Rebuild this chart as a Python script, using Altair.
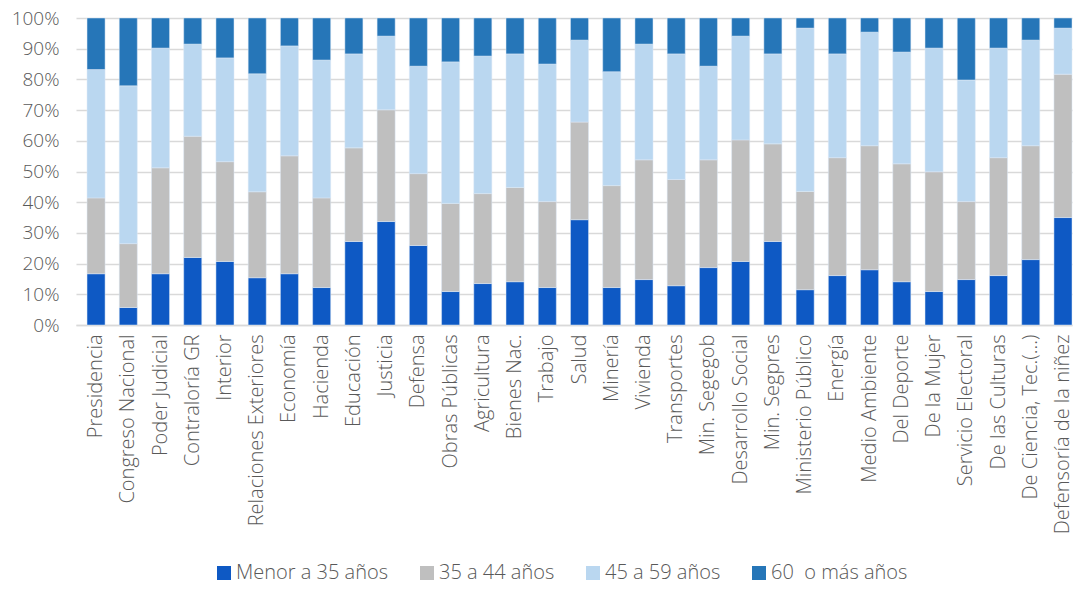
import altair as alt
import pandas as pd

categories = [
    "Presidencia", "Congreso Nacional", "Poder Judicial", "Contraloría GR", "Interior",
    "Relaciones Exteriores", "Economía", "Hacienda", "Educación", "Justicia", "Defensa",
    "Obras Públicas", "Agricultura", "Bienes Nac.", "Trabajo", "Salud", "Minería",
    "Vivienda", "Transportes", "Min. Segegob", "Desarrollo Social", "Min. Segpres",
    "Ministerio Público", "Energía", "Medio Ambiente", "Del Deporte", "De la Mujer",
    "Servicio Electoral", "De las Culturas", "De Ciencia, Tec.(...)", "Defensoría de la niñez",
]

series = ["Menor a 35 años", "35 a 44 años", "45 a 59 años", "60\u00a0 o más años"]

menor_35 = [16.7, 5.7, 16.7, 22.0, 20.7, 15.4, 16.7, 12.2, 27.2, 33.7, 25.9, 10.9, 13.5, 14.1, 12.2,
            34.3, 12.2, 14.8, 12.8, 18.7, 20.7, 27.2, 11.5, 16.1, 18.0, 14.1, 10.9, 14.8, 16.1, 21.3, 35.0]
de_35_44 = [24.7, 20.8, 34.5, 39.5, 32.5, 28.0, 38.4, 29.2, 30.5, 36.4, 23.4, 28.7, 29.3, 30.7, 28.0,
            31.8, 33.2, 39.0, 34.6, 35.1, 39.6, 31.8, 32.0, 38.4, 40.4, 38.4, 39.0, 25.4, 38.4, 37.1, 46.7]
de_45_59 = [41.8, 51.4, 39.0, 30.0, 33.8, 38.4, 35.8, 44.9, 30.6, 24.0, 35.0, 46.1, 44.8, 43.5, 44.8,
            26.7, 37.1, 37.7, 40.9, 30.5, 33.8, 29.3, 53.2, 33.8, 37.0, 36.4, 40.3, 39.6, 35.7, 34.4, 15.0]
mas_60 = [16.8, 22.1, 9.8, 8.5, 13.0, 18.2, 9.1, 13.7, 11.7, 5.9, 15.7, 14.3, 12.4, 11.7, 15.0,
          7.2, 17.5, 8.5, 11.7, 15.7, 5.9, 11.7, 3.3, 11.7, 4.6, 11.1, 9.8, 20.2, 9.8, 7.2, 3.3]

colors = ["#0E59C4", "#BFBFBF", "#BAD7F0", "#2676B8"]

rows = []
for i, cat in enumerate(categories):
    for k, vals in enumerate([menor_35, de_35_44, de_45_59, mas_60]):
        rows.append({"cat": cat, "serie": series[k], "orden": k, "valor": vals[i]})
df = pd.DataFrame(rows)

FONT = "Open Sans"
TXT = "#595959"

chart = alt.Chart(df).mark_bar(stroke="#DCE9F7", strokeWidth=0.5).encode(
    x=alt.X("cat:N", sort=categories, title=None,
            scale=alt.Scale(paddingInner=0.44, paddingOuter=0.171, align=1),
            axis=alt.Axis(labelAngle=270, labelFontSize=20, labelColor=TXT, labelFont=FONT,
                          labelFontWeight=300, ticks=False, domain=True, domainColor="#D9D9D9",
                          domainWidth=1.5, labelPadding=9, labelLimit=300, grid=False)),
    y=alt.Y("valor:Q", stack="zero", title=None,
            scale=alt.Scale(domain=[0, 100], nice=False),
            axis=alt.Axis(values=list(range(0, 101, 10)), labelExpr="datum.value + '%'",
                          labelFontSize=19, labelColor=TXT, labelFont=FONT, labelFontWeight=300,
                          ticks=False, domain=False, labelPadding=17,
                          gridColor="#D9D9D9", gridWidth=1.5)),
    color=alt.Color("serie:N", sort=series, title=None,
                    scale=alt.Scale(domain=series, range=colors),
                    legend=alt.Legend(orient="none", legendX=138, legendY=545, padding=0,
                                      direction="horizontal", symbolType="square",
                                      symbolSize=196, symbolStrokeWidth=0, labelFontSize=20,
                                      labelColor=TXT, labelFont=FONT, labelFontWeight=300,
                                      labelOffset=2, columnPadding=28, labelLimit=300)),
    order=alt.Order("orden:Q", sort="ascending"),
).properties(
    width=996, height=307,
    padding={"left": 3, "top": 1, "right": 0, "bottom": 0},
).configure_view(stroke=None)

chart.save("out.html", embed_options={"renderer": "svg", "actions": False})
